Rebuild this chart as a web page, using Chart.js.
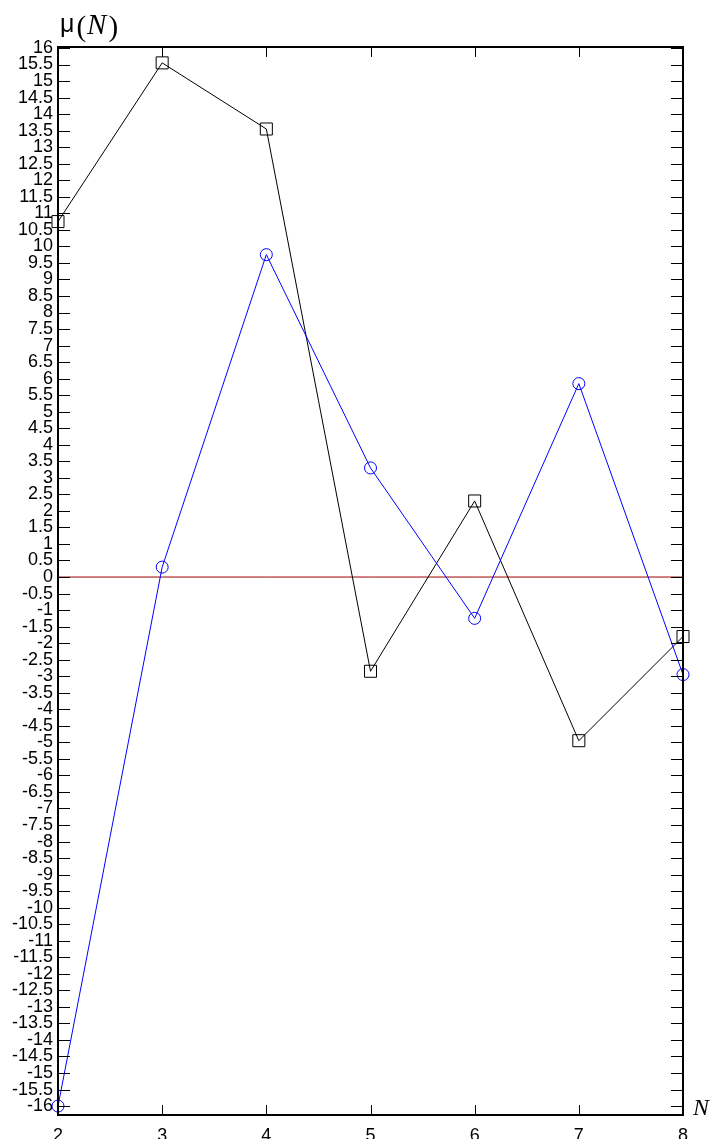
<!DOCTYPE html>
<html>
<head>
<meta charset="utf-8">
<script src="https://cdn.jsdelivr.net/npm/chart.js@4.4.1/dist/chart.umd.min.js"></script>
<style>
  html, body { margin: 0; padding: 0; background: #fff; }
  #wrap { width: 711px; height: 1139px; position: relative; }
</style>
</head>
<body>
<div id="wrap"><canvas id="c" width="711" height="1139"></canvas></div>
<script>
// N values along the horizontal axis
const nValues = [2, 3, 4, 5, 6, 7, 8];
// μ(N), square-marked series (black)
const squareSeries = [10.75, 15.55, 13.55, -2.85, 2.3, -4.95, -1.8];
// μ(N), circle-marked series (blue)
const circleSeries = [-16.0, 0.3, 9.75, 3.3, -1.25, 5.85, -2.95];
// reference line at zero
const zeroSeries = [0, 0, 0, 0, 0, 0, 0];
// vertical tick labels, every 0.5 from -16 to 16
const yTickValues = [];
for (let v = -32; v <= 32; v++) yTickValues.push(v / 2);
// horizontal tick labels
const xTickValues = [2, 3, 4, 5, 6, 7, 8];

const toPoints = arr => arr.map((y, i) => ({ x: nValues[i], y }));

// frame, inward tick marks and the axis titles
const framePlugin = {
  id: 'frame',
  afterDatasetsDraw(chart) {
    const { ctx, chartArea: a, scales } = chart;
    const ys = scales.y, xs = scales.x;
    ctx.save();
    ctx.strokeStyle = '#000';
    ctx.lineWidth = 1;
    ctx.beginPath();
    yTickValues.forEach(v => {
      const p = Math.round(ys.getPixelForValue(v)) + 0.5;
      ctx.moveTo(a.left + 1, p); ctx.lineTo(a.left + 12, p);
      ctx.moveTo(a.right - 1, p); ctx.lineTo(a.right - 12, p);
    });
    xTickValues.forEach(v => {
      const p = Math.round(xs.getPixelForValue(v)) + 0.5;
      ctx.moveTo(p, a.top); ctx.lineTo(p, a.top + 10);
      ctx.moveTo(p, a.bottom); ctx.lineTo(p, a.bottom - 10);
    });
    ctx.stroke();
    ctx.lineWidth = 2;
    ctx.strokeRect(Math.round(a.left), Math.round(a.top), Math.round(a.right - a.left), Math.round(a.bottom - a.top));
    ctx.restore();
  },
  afterDraw(chart) {
    const { ctx, chartArea: a } = chart;
    ctx.save();
    ctx.fillStyle = '#000';
    ctx.textBaseline = 'alphabetic';
    // μ(N) above the left axis
    let x = 60;
    const base = 34;
    ctx.font = '25px "Liberation Sans", Arial, sans-serif';
    ctx.fillText('μ', x, base - 2);
    x += ctx.measureText('μ').width + 2;
    ctx.font = '29px "Liberation Serif", "Times New Roman", serif';
    ctx.fillText('(', x, base + 2);
    x += ctx.measureText('(').width + 1;
    ctx.font = 'italic 29px "Liberation Serif", "Times New Roman", serif';
    ctx.fillText('N', x, base);
    x += ctx.measureText('N').width + 2;
    ctx.font = '29px "Liberation Serif", "Times New Roman", serif';
    ctx.fillText(')', x, base + 2);
    // N beside the bottom-right corner
    ctx.font = 'italic 24px "Liberation Serif", "Times New Roman", serif';
    ctx.fillText('N', a.right + 10, a.bottom);
    ctx.restore();
  }
};

new Chart(document.getElementById('c'), {
  type: 'line',
  data: {
    datasets: [
      {
        data: toPoints(squareSeries),
        borderColor: '#000',
        borderWidth: 1,
        pointStyle: 'rect',
        pointRadius: 8.5,
        pointBorderColor: '#000',
        pointBorderWidth: 1,
        pointBackgroundColor: 'rgba(0,0,0,0)',
        fill: false,
        tension: 0,
        order: 1
      },
      {
        data: toPoints(circleSeries),
        borderColor: '#0000ff',
        borderWidth: 1,
        pointStyle: 'circle',
        pointRadius: 6,
        pointBorderColor: '#0000ff',
        pointBorderWidth: 1,
        pointBackgroundColor: 'rgba(0,0,0,0)',
        fill: false,
        tension: 0,
        order: 0
      },
      {
        data: toPoints(zeroSeries),
        borderColor: '#a00000',
        borderWidth: 1,
        pointRadius: 0,
        fill: false,
        order: 2
      }
    ]
  },
  options: {
    responsive: false,
    animation: false,
    devicePixelRatio: 1,
    layout: { padding: { top: 47, right: 28, bottom: 0, left: 0 } },
    plugins: { legend: { display: false }, tooltip: { enabled: false }, title: { display: false } },
    elements: { line: { borderCapStyle: 'butt' } },
    clip: false,
    scales: {
      x: {
        type: 'linear',
        min: 2,
        max: 8,
        grid: { display: false, drawTicks: false, tickLength: 0 },
        border: { display: false },
        afterBuildTicks(scale) { scale.ticks = xTickValues.map(v => ({ value: v })); },
        afterFit(scale) { scale.height = 24; },
        ticks: {
          padding: 10,
          color: '#000',
          font: { family: '"Liberation Sans", Arial, sans-serif', size: 18 },
          maxRotation: 0,
          callback: v => String(v)
        }
      },
      y: {
        type: 'linear',
        min: -16.27,
        max: 16.03,
        grid: { display: false, drawTicks: false, tickLength: 0 },
        border: { display: false },
        afterBuildTicks(scale) { scale.ticks = yTickValues.map(v => ({ value: v })); },
        afterFit(scale) { scale.width = 58; },
        ticks: {
          padding: 5,
          autoSkip: false,
          color: '#000',
          font: { family: '"Liberation Sans", Arial, sans-serif', size: 18 },
          callback: v => String(v)
        }
      }
    }
  },
  plugins: [framePlugin]
});
</script>
</body>
</html>
